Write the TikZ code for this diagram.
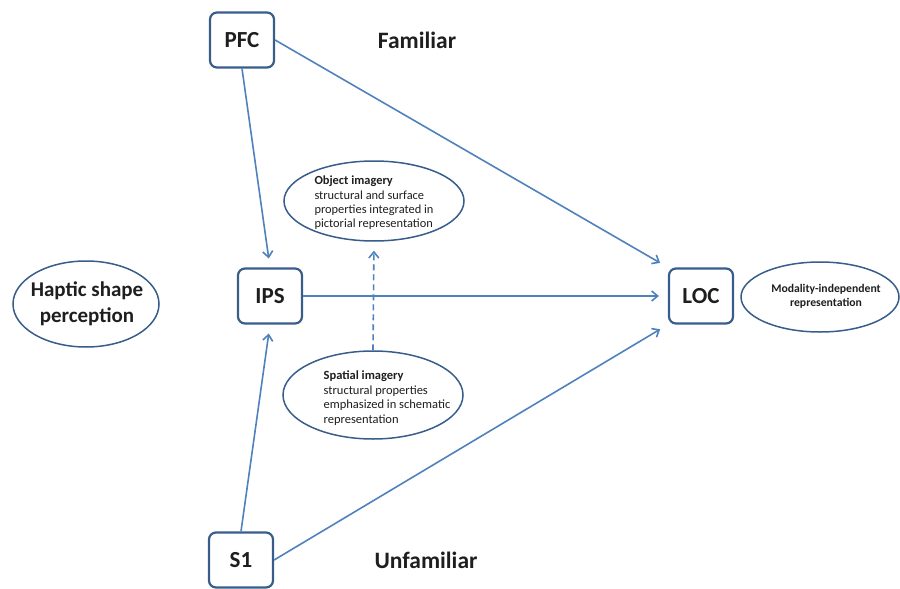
\documentclass[tikz,border=0pt]{standalone}
\usepackage{fontspec}
\setmainfont{Carlito}
\usetikzlibrary{arrows.meta,shapes.geometric}

\definecolor{linkblue}{RGB}{79,129,189}
\definecolor{boxblue}{RGB}{56,93,138}
\definecolor{inkgray}{RGB}{30,30,30}

\begin{document}
\begin{tikzpicture}[x=1pt,y=-1pt,text=inkgray]
    \useasboundingbox (0,0) rectangle (900,589);

    \begin{scope}[every node/.style={draw=boxblue,line width=2.2pt,rounded corners=7pt,
                  minimum width=64pt,minimum height=55pt,
                  font=\fontsize{23}{27}\selectfont\bfseries}]
        \node (PFC) at (242,40)  {PFC};
        \node (IPS) at (270,296) {IPS};
        \node (S1)  at (241,560) {S1};
        \node (LOC) at (701,296) {LOC};
    \end{scope}

    \begin{scope}[every node/.style={ellipse,draw=boxblue,line width=1.5pt,inner sep=0pt}]
        \node [minimum width=146pt,minimum height=86pt] (HSP) at (86,304) {};
        \node [minimum width=180pt,minimum height=80pt] (OBJ) at (374,201) {};
        \node [minimum width=180pt,minimum height=88pt] (SPA) at (373,395) {};
        \node [minimum width=158pt,minimum height=70pt] (MOD) at (820,297) {};
    \end{scope}

    \node [align=center,font=\fontsize{21}{26}\selectfont\bfseries] (HSP-t) at (87,304)
        {Haptic shape\\perception};
    \node [align=left,font=\fontsize{12.4}{14.3}\selectfont] (OBJ-t) at (374,203)
        {\textbf{Object imagery}\\structural and surface\\properties integrated in\\pictorial representation};
    \node [align=left,font=\fontsize{12.5}{14.6}\selectfont] (SPA-t) at (387,398)
        {\textbf{Spatial imagery}\\structural properties\\emphasized in schematic\\representation};
    \node [align=center,font=\fontsize{11.7}{14}\selectfont\bfseries] (MOD-t) at (826,296)
        {Modality-independent\\representation};

    \node [font=\fontsize{23.5}{28}\selectfont\bfseries] (FAM) at (417,40)  {Familiar};
    \node [font=\fontsize{23.5}{28}\selectfont\bfseries] (UNF) at (426,560) {Unfamiliar};

    \begin{scope}[>={Straight Barb[length=6pt,width=10pt]},
                  every edge/.style={draw=linkblue,line width=1.6pt,shorten >=9pt}]
        \path [->] (PFC.south) edge (IPS.north);
        \path [->] (PFC.east) edge (LOC.north west);
        \path [->] (IPS.east) edge (LOC.west);
        \path [->] (S1.north) edge (IPS.south);
        \path [->] (S1.east) edge (LOC.south west);
    \end{scope}

    % dashed link between the two kinds of imagery
    \draw [->,>={Straight Barb[length=6pt,width=10pt]},draw=linkblue,line width=1.6pt,
           dash pattern=on 6pt off 4pt,shorten >=9pt]
        (SPA.north) -- (OBJ.south);
\end{tikzpicture}
\end{document}
